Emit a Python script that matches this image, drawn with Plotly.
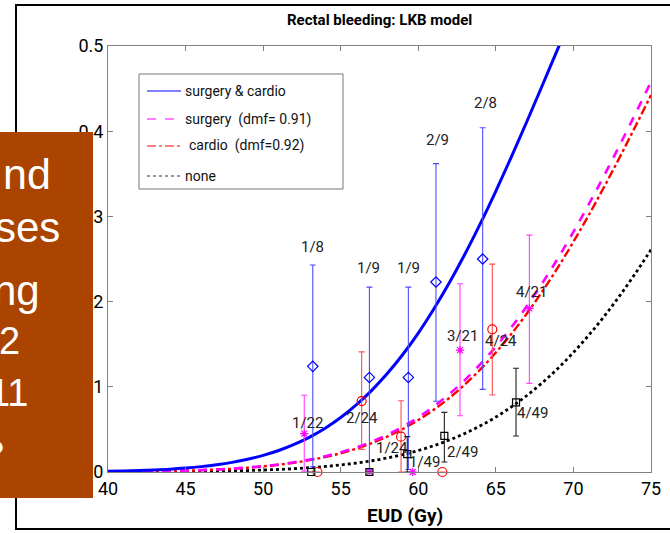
import plotly.graph_objects as go

# ---------------- data ----------------
eud_grid = [40, 41, 42, 43, 44, 45, 46, 47, 48, 49, 50, 51, 52, 53, 54, 55, 56, 57,
            58, 59, 60, 61, 62, 63, 64, 65, 66, 67, 68, 69, 70, 71, 72, 73, 74, 75]

ntcp_both = [0.0008, 0.0012, 0.0017, 0.0024, 0.0033, 0.0046, 0.0063, 0.0085, 0.0113,
             0.0149, 0.0195, 0.0252, 0.0324, 0.0410, 0.0514, 0.0639, 0.0787, 0.0958,
             0.1155, 0.1379, 0.1631, 0.1913, 0.2221, 0.2556, 0.2916, 0.3298, 0.3699,
             0.4114, 0.4539, 0.4970, 0.5400, 0.5830, 0.6250, 0.6650, 0.7030, 0.7380]
ntcp_surgery = [0.0003, 0.0005, 0.0006, 0.0009, 0.0012, 0.0016, 0.0022, 0.0030, 0.0040,
                0.0053, 0.0069, 0.0089, 0.0115, 0.0146, 0.0185, 0.0232, 0.0288, 0.0356,
                0.0437, 0.0532, 0.0642, 0.0769, 0.0915, 0.1079, 0.1265, 0.1471, 0.1698,
                0.1948, 0.2218, 0.2509, 0.2819, 0.3146, 0.3488, 0.3843, 0.4207, 0.4579]
ntcp_cardio = [0.0003, 0.0004, 0.0006, 0.0008, 0.0012, 0.0016, 0.0022, 0.0029, 0.0038,
               0.0050, 0.0066, 0.0085, 0.0109, 0.0139, 0.0176, 0.0220, 0.0274, 0.0338,
               0.0415, 0.0505, 0.0610, 0.0731, 0.0869, 0.1027, 0.1204, 0.1403, 0.1621,
               0.1860, 0.2121, 0.2401, 0.2702, 0.3019, 0.3354, 0.3700, 0.4059, 0.4424]
ntcp_none = [0.0001, 0.0002, 0.0002, 0.0003, 0.0004, 0.0005, 0.0007, 0.0010, 0.0013,
             0.0017, 0.0023, 0.0030, 0.0039, 0.0051, 0.0065, 0.0083, 0.0105, 0.0132,
             0.0165, 0.0205, 0.0252, 0.0309, 0.0375, 0.0452, 0.0542, 0.0645, 0.0764,
             0.0898, 0.1049, 0.1216, 0.1403, 0.1608, 0.1831, 0.2073, 0.2333, 0.2610]

both_x = [53.2, 56.85, 59.36, 61.14, 64.15]
both_y = [0.124, 0.111, 0.111, 0.223, 0.250]
both_hi = [0.243, 0.217, 0.217, 0.362, 0.404]
both_lo = [0.006, 0.003, 0.003, 0.083, 0.097]

surg_x = [52.65, 56.85, 59.64, 62.69, 67.16]
surg_y = [0.045, 0.0, 0.0, 0.143, 0.192]
surg_hi = [0.090, 0.0, 0.0, 0.221, 0.278]
surg_lo = [0.001, 0.0, 0.0, 0.066, 0.104]

card_x = [53.5, 56.35, 58.89, 61.55, 64.77]
card_y = [0.0, 0.0833, 0.0415, 0.0, 0.1675]
card_hi = [0.0, 0.141, 0.0837, 0.0, 0.244]
card_lo = [0.0, 0.0266, 0.0, 0.0, 0.0904]

none_x = [53.1, 56.85, 59.29, 61.68, 66.3]
none_y = [0.0, 0.0, 0.021, 0.0423, 0.0818]
none_hi = [0.0, 0.0, 0.0415, 0.070, 0.1217]
none_lo = [0.0, 0.0, 0.0, 0.0117, 0.0423]

label_text = ["1/8", "1/9", "1/9", "2/9", "2/8", "1/22", "2/24", "1/24", "1/49",
              "2/49", "3/21", "4/24", "4/21", "4/49"]
label_x = [53.21, 56.82, 59.34, 61.21, 64.30, 52.83, 56.37, 58.31, 60.43,
           62.88, 62.88, 65.33, 67.27, 67.33]
label_y = [0.264, 0.239, 0.239, 0.390, 0.433, 0.0575, 0.0634, 0.0282, 0.0117,
           0.0235, 0.160, 0.154, 0.211, 0.069]

x_ticks = [40, 45, 50, 55, 60, 65, 70, 75]
y_ticks = [0, 0.1, 0.2, 0.3, 0.4, 0.5]

legend_names = ["surgery & cardio", "surgery\u00a0\u00a0(dmf= 0.91)",
                "cardio\u00a0\u00a0(dmf=0.92)", "none"]

box_lines = ["nd", "ses", "ng", "2", "11", "\u25cf"]

# ---------------- styling ----------------
NARROW = "Roboto, Liberation Sans, sans-serif"
W, H = 670, 534
ML, MR, MT, MB = 108, 19, 46, 62
PW, PH = W - ML - MR, H - MT - MB


def px(xp):
    return (xp - ML) / PW


def py(yp):
    return (H - MB - yp) / PH


colors = ["#0000ff", "#ff00ff", "#ff0000", "#000000"]
err_colors = ["#4d4dff", "#ff40ff", "#ff4d4d", "#222222"]

fig = go.Figure()

curve_sets = [ntcp_both, ntcp_surgery, ntcp_cardio, ntcp_none]
dashes = ["solid", "dash", "dashdot", "dot"]
widths = [3.0, 2.6, 2.4, 2.8]
for i in [3, 2, 1, 0]:
    fig.add_trace(go.Scatter(
        x=eud_grid, y=curve_sets[i], mode="lines", name=legend_names[i],
        line=dict(color=colors[i], dash=dashes[i], width=widths[i], shape="spline"),
        showlegend=False, hoverinfo="skip"))

points = [
    (both_x, both_y, both_hi, both_lo, "diamond-open", 8),
    (surg_x, surg_y, surg_hi, surg_lo, "asterisk-open", 7),
    (card_x, card_y, card_hi, card_lo, "circle-open", 9),
    (none_x, none_y, none_hi, none_lo, "square-open", 7),
]
for i, (xs, ys, hi, lo, sym, sz) in enumerate(points):
    up = [max(h - y, 0) for h, y in zip(hi, ys)]
    dn = [max(y - l, 0) for l, y in zip(lo, ys)]
    fig.add_trace(go.Scatter(
        x=xs, y=ys, mode="markers", showlegend=False, cliponaxis=False,
        marker=dict(symbol=sym, size=sz, color=colors[i],
                    line=dict(width=1.2, color=colors[i])),
        error_y=dict(type="data", array=up, arrayminus=dn, visible=True,
                     color=err_colors[i], thickness=1.1, width=3)))

# count labels
for t, lx, ly in zip(label_text, label_x, label_y):
    fig.add_annotation(x=lx, y=ly, xref="x", yref="y", text=t, showarrow=False,
                       xanchor="center", yanchor="middle",
                       font=dict(family=NARROW, size=15, color="#222222"))

# ---- custom legend (box, line samples, text, symbols) ----
shapes = []
shapes.append(dict(type="rect", xref="paper", yref="paper",
                   x0=px(139), x1=px(343), y0=py(189), y1=py(74),
                   line=dict(color="#777777", width=1), fillcolor="white", layer="above"))
row_y = [91, 119, 146, 176]
text_x = [183, 183, 187, 183]
sym_pos = [(315, 91), (329, 119), (318, 147), (238, 177)]
syms = ["diamond-open", "asterisk-open", "circle-open", "square-open"]
leg_dash = ["solid", "dash", "dashdot", "dot"]
for i in range(4):
    shapes.append(dict(type="line", xref="paper", yref="paper",
                       x0=px(147), x1=px(181), y0=py(row_y[i]), y1=py(row_y[i]),
                       line=dict(color=colors[i] if i < 3 else "#333333", width=1.2,
                                 dash=leg_dash[i]), layer="above"))
    fig.add_annotation(x=px(text_x[i]), y=py(row_y[i]), xref="paper", yref="paper",
                       xanchor="left", yanchor="middle", text=legend_names[i],
                       showarrow=False, font=dict(family=NARROW, size=14, color="#111111"))
fig.add_trace(go.Scatter(
    x=[px(p[0]) for p in sym_pos], y=[py(p[1]) for p in sym_pos],
    xaxis="x2", yaxis="y2", mode="markers", showlegend=False, hoverinfo="skip",
    cliponaxis=False,
    marker=dict(symbol=syms, size=[9, 8, 8, 8], color="black",
                line=dict(width=2, color="black"))))

# outer frame of the slide figure
shapes.append(dict(type="rect", xref="paper", yref="paper",
                   x0=px(16), x1=px(675), y0=py(529), y1=py(5),
                   line=dict(color="black", width=2), layer="below"))
# orange overlay box
shapes.append(dict(type="rect", xref="paper", yref="paper",
                   x0=px(-5), x1=px(93), y0=py(498), y1=py(132),
                   line=dict(width=0), fillcolor="#AA4400", layer="above"))

box_right = [53, 62, 42, 22, 30, 7]
box_mid = [174, 228, 290, 341, 393, 445]
box_size = [43, 42, 42, 38, 38, 30]
for t, rx, my, fs in zip(box_lines, box_right, box_mid, box_size):
    fig.add_annotation(x=px(rx), y=py(my), xref="paper", yref="paper",
                       xanchor="right", yanchor="middle", text=t, showarrow=False,
                       font=dict(family="Liberation Sans, Arial, sans-serif", size=fs,
                                 color="white"))

# title and axis title
fig.add_annotation(x=px(379), y=py(20), xref="paper", yref="paper",
                   xanchor="center", yanchor="middle",
                   text="<b>Rectal bleeding: LKB model</b>",
                   showarrow=False, font=dict(family=NARROW, size=15, color="black"))
fig.add_annotation(x=px(405), y=py(515), xref="paper", yref="paper",
                   xanchor="center", yanchor="middle", text="<b>EUD (Gy)</b>",
                   showarrow=False, font=dict(family=NARROW, size=19, color="black"))

axis_common = dict(showline=True, linecolor="#808080", linewidth=1, mirror="ticks",
                   ticks="inside", ticklen=5, tickcolor="#808080", showgrid=False,
                   zeroline=False, automargin=False,
                   tickfont=dict(family=NARROW, size=18, color="black"))

fig.update_layout(
    width=W, height=H, margin=dict(l=ML, r=MR, t=MT, b=MB, autoexpand=False),
    paper_bgcolor="white", plot_bgcolor="white", showlegend=False,
    shapes=shapes,
    xaxis=dict(range=[40, 75], tickvals=x_ticks, ticktext=[str(v) for v in x_ticks],
               **axis_common),
    yaxis=dict(range=[0, 0.5], tickvals=y_ticks, ticktext=[f"{v:g}" for v in y_ticks],
               **axis_common),
    xaxis2=dict(overlaying="x", range=[0, 1], visible=False),
    yaxis2=dict(overlaying="y", range=[0, 1], visible=False),
)

fig.write_html("out.html", config={"displayModeBar": False},
               post_script="document.body.style.margin='0';document.body.style.overflow='hidden';")
